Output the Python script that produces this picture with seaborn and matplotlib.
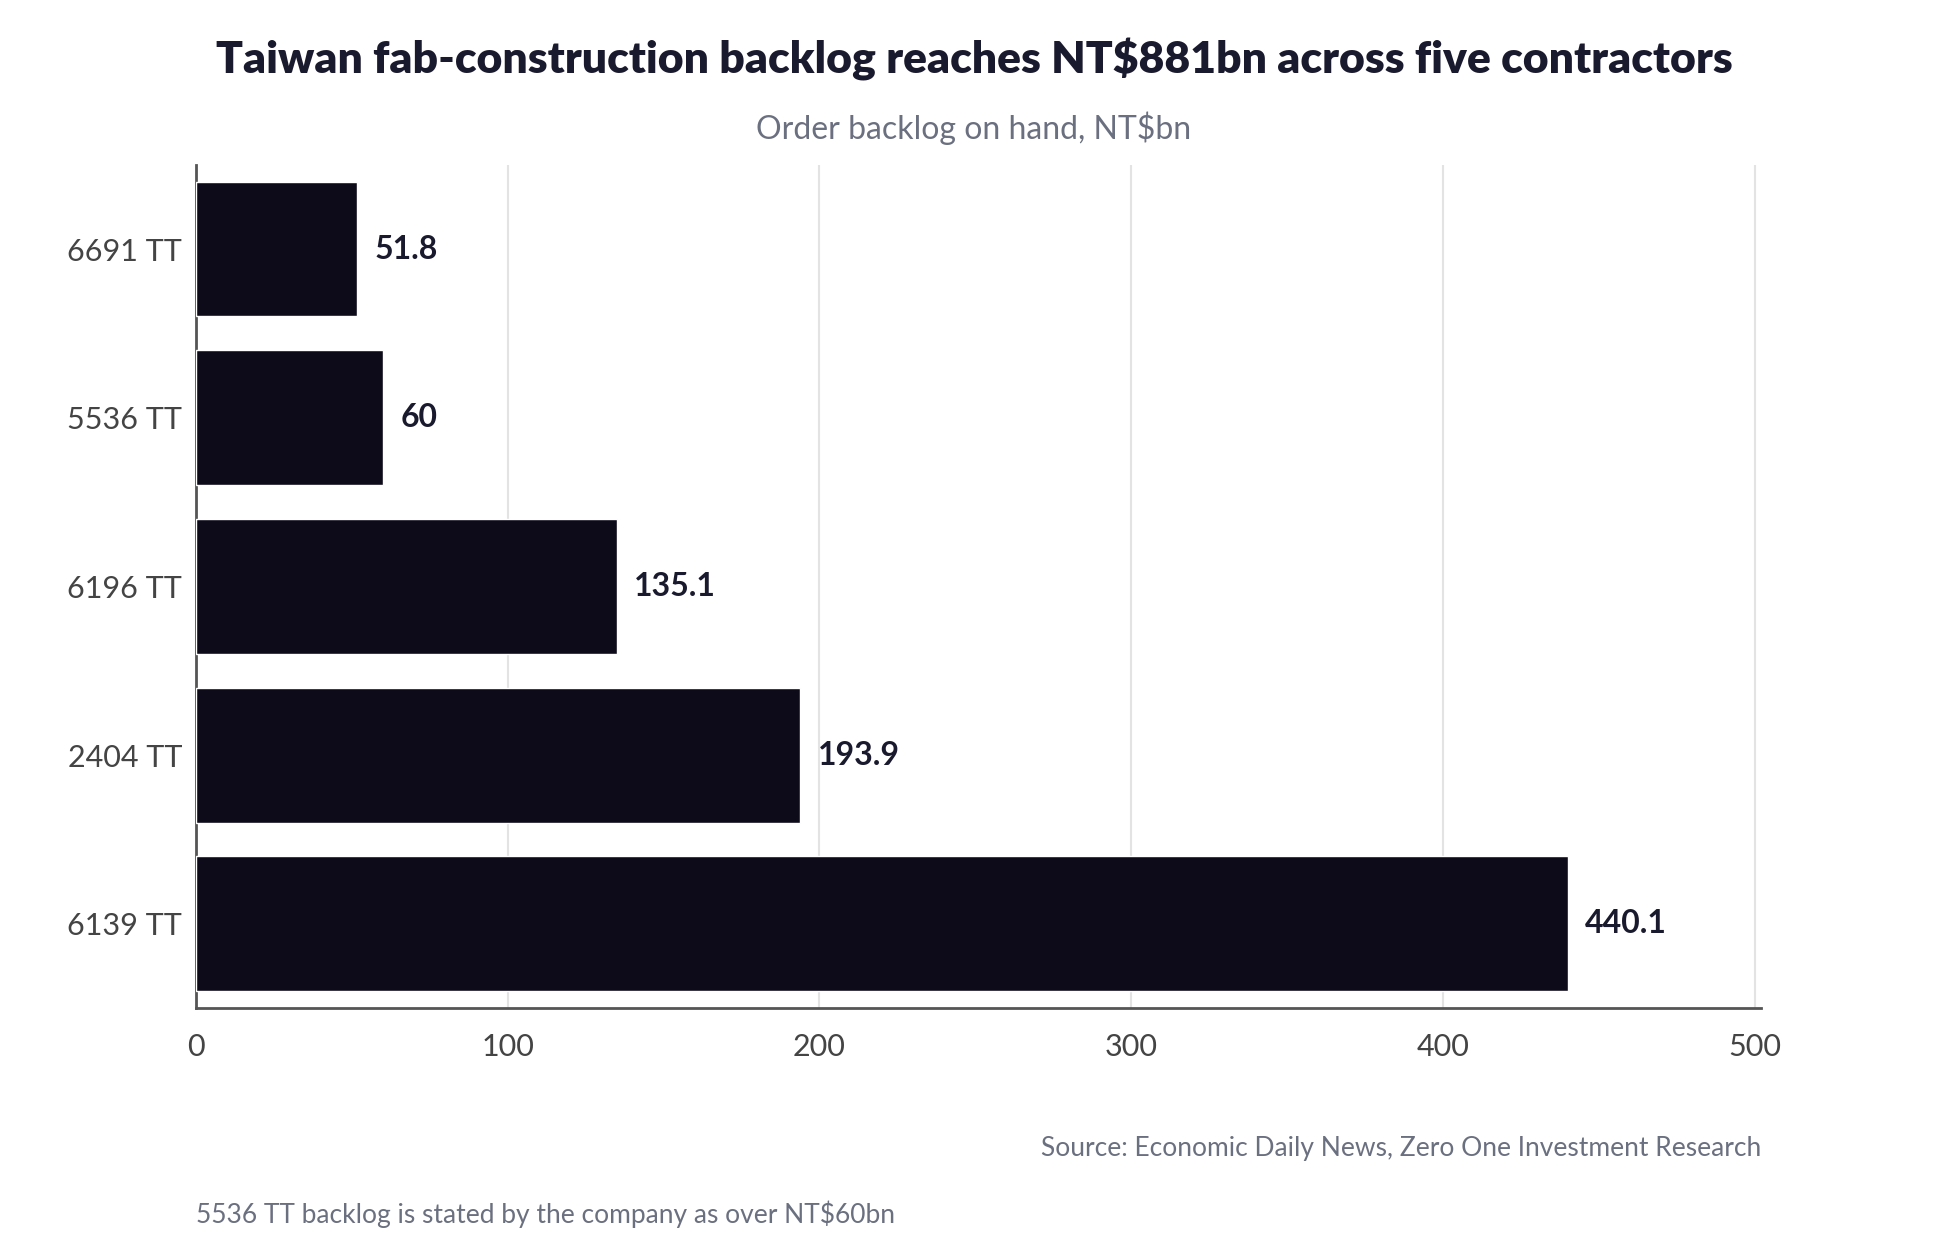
import matplotlib
matplotlib.use("Agg")
import matplotlib.pyplot as plt
import seaborn as sns
import pandas as pd

companies = ["6691 TT", "5536 TT", "6196 TT", "2404 TT", "6139 TT"]
backlog = [51.8, 60, 135.1, 193.9, 440.1]
labels = ["51.8", "60", "135.1", "193.9", "440.1"]
xticks = [0, 100, 200, 300, 400, 500]

sns.set_theme(style="white")
plt.rcParams['font.family'] = ['Lato', 'DejaVu Sans']

df = pd.DataFrame({"company": companies, "backlog": backlog})
fig = plt.figure(figsize=(19.48, 12.57), dpi=100)
ax = fig.add_axes([0.1006, 0.198, 0.8034, 0.671])
sns.barplot(data=df, x="backlog", y="company", color="#0d0a19", saturation=1,
            width=0.8, ax=ax, zorder=3)
ax.set_xlim(0, 502)
ax.set_xticks(xticks)
ax.set_xlabel(""); ax.set_ylabel("")
ax.grid(axis="x", color="#e3e3e3", linewidth=1.5, zorder=0)
for s in ["top", "right"]:
    ax.spines[s].set_visible(False)
for s in ["left", "bottom"]:
    ax.spines[s].set_color("#555555"); ax.spines[s].set_linewidth(2)
ax.tick_params(axis="both", labelsize=22, colors="#444444", length=0, pad=10)
ax.tick_params(axis="x", length=8, width=1.5, color="#555555")
for i, (v, t) in enumerate(zip(backlog, labels)):
    ax.text(v + 5.5, i, t, va="center", ha="left", fontsize=23,
            fontweight="bold", color="#1a1a2e")
fig.text(0.5, 0.953, "Taiwan fab-construction backlog reaches NT$881bn across five contractors",
         ha="center", va="center", fontsize=32, fontweight="heavy", color="#1a1a2e")
fig.text(0.5, 0.898, "Order backlog on hand, NT$bn", ha="center", va="center",
         fontsize=23, color="#6b7080")
fig.text(0.904, 0.086, "Source: Economic Daily News, Zero One Investment Research",
         ha="right", va="center", fontsize=19, color="#6b7080")
fig.text(0.1006, 0.034, "5536 TT backlog is stated by the company as over NT$60bn",
         ha="left", va="center", fontsize=19, color="#6b7080")
fig.savefig("out.png", dpi=100, facecolor="white")
